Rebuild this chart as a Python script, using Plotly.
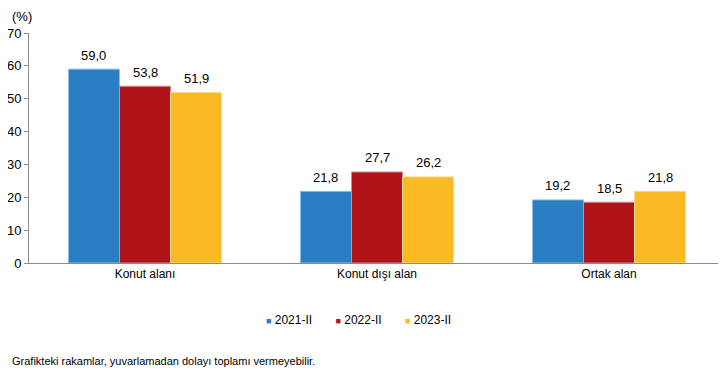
import plotly.graph_objects as go

categories = ["Konut alanı", "Konut dışı alan", "Ortak alan"]
series_names = ["2021-II", "2022-II", "2023-II"]
v2021 = [59.0, 21.8, 19.2]
v2022 = [53.8, 27.7, 18.5]
v2023 = [51.9, 26.2, 21.8]
colors = ["#2A7EC3", "#AF1518", "#FBBA23"]
line_colors = ["#8DBBE3", "#D98A8C", "#FCD98A"]
y_ticks = [0, 10, 20, 30, 40, 50, 60, 70]

# page has an 8px body margin, so the figure is drawn 8px smaller
W, H = 718, 372
ML, MR, MT, MB = 21, 1, 25, 117
plot_w = W - ML - MR
bargap = 0.34
bar_px = plot_w / len(categories) * (1 - bargap) / len(series_names)

fig = go.Figure()
annotations = []
all_vals = [v2021, v2022, v2023]
for i, (name, vals, c, lc) in enumerate(zip(series_names, all_vals, colors, line_colors)):
    fig.add_trace(go.Bar(
        x=categories, y=vals, name=name, showlegend=False,
        marker=dict(color=c, line=dict(color=lc, width=1)),
        hoverinfo="x+y",
    ))
    for cat, v in zip(categories, vals):
        annotations.append(dict(
            x=cat, y=v, xref="x", yref="y", text=f"{v:.1f}".replace(".", ","),
            showarrow=False, xshift=(i - 1) * bar_px, yshift=14,
            yanchor="middle", xanchor="center", font=dict(size=13),
        ))

legend_text = "&nbsp;&nbsp;&nbsp;&nbsp;&nbsp;&nbsp;&nbsp;".join(
    f"<span style='color:{c};font-size:9px'>■</span>&nbsp;{n}"
    for n, c in zip(series_names, colors)
)

annotations += [
    dict(text=legend_text, xref="paper", yref="paper", x=0.474, y=-0.248,
         xanchor="center", yanchor="middle", showarrow=False, font=dict(size=12)),
    dict(text="(%)", xref="paper", yref="paper", x=-0.0273, y=1.072, xanchor="left",
         yanchor="middle", showarrow=False, font=dict(size=13)),
    dict(text="Grafikteki rakamlar, yuvarlamadan dolayı toplamı vermeyebilir.",
         xref="paper", yref="paper", x=-0.0273, y=-0.426, xanchor="left",
         yanchor="middle", showarrow=False, font=dict(size=11)),
]

fig.update_layout(
    width=W, height=H,
    margin=dict(l=ML, r=MR, t=MT, b=MB),
    paper_bgcolor="white", plot_bgcolor="white",
    font=dict(family="Liberation Sans, Arial, sans-serif", size=13, color="#000000"),
    separators=",.",
    barmode="group", bargap=bargap, bargroupgap=0,
    showlegend=False,
    xaxis=dict(showline=True, linecolor="#8C8C8C", linewidth=1, ticks="",
               tickfont=dict(size=12), showgrid=False, automargin=False),
    yaxis=dict(range=[0, 70], tickvals=y_ticks, showline=True, linecolor="#8C8C8C",
               linewidth=1, ticks="outside", ticklen=4, tickcolor="#8C8C8C",
               showgrid=False, zeroline=False, tickfont=dict(size=13), automargin=False),
    annotations=annotations,
)

fig.write_html("out.html")
